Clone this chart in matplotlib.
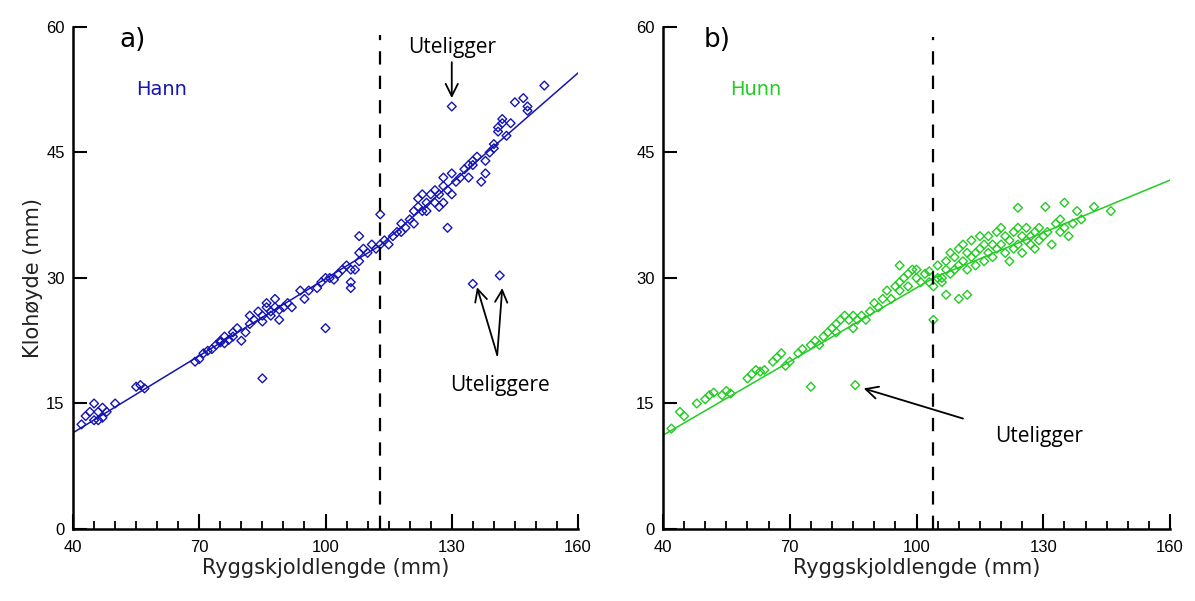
import matplotlib
matplotlib.use("Agg")
import matplotlib.pyplot as plt
import numpy as np

# male data (Hann)
hann_x = [42, 43, 44, 45, 45, 46, 46, 47, 47, 48, 50,
          55, 56, 57,
          69, 70, 71, 72, 73,
          74, 75, 75, 76, 76, 77, 78, 78, 79, 80, 81, 82, 82, 83, 84, 85, 85, 86, 86,
          87, 87, 88, 88, 89, 89, 90, 91, 92, 94, 95,
          96, 98, 99, 100, 101, 102, 103, 104, 105, 106, 106, 106, 107, 108, 108, 108,
          109, 110, 111, 112, 113,
          114, 115, 116, 117, 118, 118, 119, 120, 121, 121, 122, 122, 123, 123, 124, 124,
          125, 126, 126, 127, 127, 128, 128, 128, 129, 129, 130, 130, 131, 132, 133,
          134, 134, 135, 135, 136, 137, 138, 138, 139, 140, 140, 141, 141, 142, 142,
          143, 144, 145, 147, 148, 148, 152,
          85, 100, 113, 130, 135, 141.4]
hann_y = [12.5, 13.5, 14, 13, 15, 13, 14, 13.3, 14.5, 14, 15,
          17, 17.2, 16.8,
          20, 20.3, 21, 21.3, 21.5,
          22, 22.3, 22.5, 22.2, 23, 22.6, 23, 23.5, 24, 22.5, 23.5, 24.5, 25.5, 25, 26, 25.5, 24.8, 26.5, 27,
          25.5, 26, 26.5, 27.5, 26.2, 25, 26.5, 27, 26.5, 28.5, 27.5,
          28.5, 28.8, 29.5, 30, 30, 29.8, 30.5, 31, 31.5, 31, 29.5, 28.8, 31, 32, 33, 35,
          33.5, 33, 34, 33.5, 34,
          34.5, 34, 35, 35.5, 35.5, 36.5, 36, 37, 38, 36.5, 38.5, 39.5, 38, 40, 39, 38,
          40, 39, 40.5, 38.5, 40, 39, 42, 41, 40.5, 36, 40, 42.5, 41.5, 42, 43,
          43.5, 42, 43.5, 44, 44.5, 41.5, 42.5, 44, 45, 45.5, 46, 47.5, 48, 48.5, 49,
          47, 48.5, 51, 51.5, 50.5, 50, 53,
          18, 24, 37.6, 50.5, 29.3, 30.3]

# female data (Hunn)
hunn_x = [42, 44, 45, 48, 50, 51, 52, 54, 55, 56,
          60, 61, 62, 63, 64, 66, 67, 68, 69, 70, 72, 73, 75, 76, 77, 78, 79, 80, 81, 81,
          82, 83, 84, 85, 85, 86, 87, 88, 89, 90, 91, 92, 93, 94, 95, 96, 96, 97, 98, 99,
          100, 101, 102, 103, 103, 98, 100, 96,
          104, 105, 105, 106, 106, 107, 107, 108, 108, 109, 109, 110, 110, 111, 111, 112,
          112, 113, 113, 114, 114, 115, 115, 116, 116, 117, 117, 118, 118, 119, 119, 120,
          120, 121, 121, 122, 122, 123, 123, 124, 124, 125, 125, 126, 126, 127, 127, 128,
          128, 129, 129, 130, 131, 132, 133, 134, 134, 135, 135, 136, 137, 138, 139, 142,
          146, 124, 130.5, 107, 110, 112,
          75, 85.5, 104]
hunn_y = [12, 14, 13.5, 15, 15.5, 16, 16.3, 16, 16.5, 16.2,
          18, 18.5, 19, 18.8, 19, 20, 20.5, 21, 19.5, 20, 21, 21.5, 22, 22.5, 22, 23, 23.5, 24, 24.5, 23.5,
          25, 25.5, 25, 25.5, 24, 25, 25.5, 25, 26, 27, 26.5, 27.5, 28.5, 27.5, 29, 29.5, 28.5, 30, 29, 31,
          30, 29.5, 30.5, 30.8, 29.5, 30.5, 31, 31.5,
          29, 30, 31.5, 30, 29.5, 31, 32, 30.5, 33, 31, 32.5, 31.5, 33.5, 32, 34, 31,
          33, 32.5, 34.5, 31.5, 33, 33.5, 35, 32, 34, 33, 35, 34, 32.5, 33.5, 35.5, 34,
          36, 33, 35, 34.5, 32, 35.5, 33.5, 34, 36, 35, 33, 34.5, 36, 35, 34, 35.5,
          33.5, 34.5, 36, 35, 35.5, 34, 36.5, 37, 35.5, 39, 36, 35, 36.5, 38, 37, 38.5,
          38, 38.4, 38.5, 28, 27.5, 28,
          17, 17.2, 25]

# piecewise regression lines
hann_line_x = [40, 113, 160]
hann_line_y = [11.5, 33.9, 54.5]
hunn_line_x = [40, 104, 160]
hunn_line_y = [11.2, 30, 41.7]

x_ticks = [40, 70, 100, 130, 160]
y_ticks = [0, 15, 30, 45, 60]

hann_col = "#1414b4"
hunn_col = "#22cc22"

fig = plt.figure(figsize=(11.95, 6.01), dpi=100)
ax1 = fig.add_axes([0.0611, 0.1198, 0.4226, 0.8353])
ax2 = fig.add_axes([0.5548, 0.1198, 0.4243, 0.8353])


def style(ax):
    ax.set_xlim(40, 160)
    ax.set_ylim(0, 60)
    ax.spines["top"].set_visible(False)
    ax.spines["right"].set_visible(False)
    ax.spines["left"].set_linewidth(1.8)
    ax.spines["bottom"].set_linewidth(1.8)
    ax.set_xticks(x_ticks)
    ax.set_xticks(np.arange(40, 161, 5), minor=True)
    ax.set_yticks(y_ticks)
    ax.tick_params(axis="x", which="major", direction="in", length=11, width=1.5,
                   labelsize=12, pad=8)
    ax.tick_params(axis="x", which="minor", direction="in", length=6, width=1.3)
    ax.tick_params(axis="y", which="major", direction="in", length=10, width=1.5,
                   labelsize=12, pad=6)
    ax.set_xlabel("Ryggskjoldlengde (mm)", fontsize=15, labelpad=2, color="#222222")
    for lab in ax.get_xticklabels() + ax.get_yticklabels():
        lab.set_fontfamily("Liberation Sans")


style(ax1)
style(ax2)
ax1.set_ylabel("Klohøyde (mm)", fontsize=15, labelpad=2, color="#222222")

ax1.scatter(hann_x, hann_y, s=20, marker="D", facecolors="none",
            edgecolors=hann_col, linewidths=1.0, clip_on=False)
ax1.plot(hann_line_x, hann_line_y, color=hann_col, lw=1.1)
ax1.axvline(113, ymax=0.985, color="black", lw=1.6, dashes=(6, 5))

ax2.scatter(hunn_x, hunn_y, s=20, marker="D", facecolors="none",
            edgecolors=hunn_col, linewidths=1.0, clip_on=False)
ax2.plot(hunn_line_x, hunn_line_y, color=hunn_col, lw=1.1)
ax2.axvline(104, ymax=0.98, color="black", lw=1.6, dashes=(6, 5))

ax1.text(51, 58.5, "a)", fontsize=19, va="center", ha="left")
ax2.text(49.5, 58.5, "b)", fontsize=19, va="center", ha="left")
ax1.text(55, 52.5, "Hann", fontsize=14, color=hann_col, va="center", ha="left")
ax2.text(56, 52.5, "Hunn", fontsize=14, color=hunn_col, va="center", ha="left")

ann = dict(fontsize=15, family="Open Sans")
arrow = dict(arrowstyle="->", lw=1.3, mutation_scale=22, shrinkA=0, shrinkB=0)
ax1.text(130, 57.6, "Uteligger", ha="center", va="center", **ann)
ax1.annotate("", xy=(130, 51.5), xytext=(130, 55.8), arrowprops=arrow)
ax1.text(141.5, 17.2, "Uteliggere", ha="center", va="center", **ann)
for tx, ty in [(136, 28.9), (142, 28.8)]:
    ax1.annotate("", xy=(tx, ty), xytext=(140.8, 20.8), arrowprops=arrow)
ax2.text(129, 11.0, "Uteligger", ha="center", va="center", **ann)
ax2.annotate("", xy=(87.5, 16.8), xytext=(111, 13.2), arrowprops=arrow)

fig.savefig("out.png", dpi=100)
